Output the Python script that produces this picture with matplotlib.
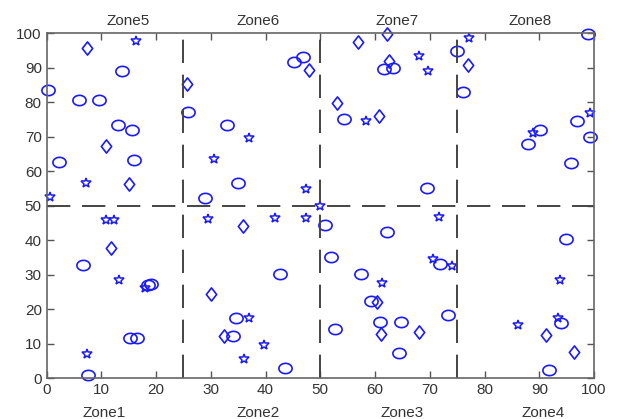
import numpy as np
import matplotlib
matplotlib.use("Agg")
import matplotlib.pyplot as plt
from matplotlib.path import Path

# circles
circ_x = [0.3, 5.9, 9.5, 13.7, 13.0, 15.6, 16.0, 2.3,
          46.8, 45.1, 25.8, 33.0, 34.9, 28.9,
          61.6, 63.2, 54.3, 69.4, 74.9, 76.0,
          98.9, 96.9, 99.3, 90.1, 88.0, 95.8,
          6.7, 18.5, 19.0, 15.2, 16.5, 7.5,
          42.7, 34.6, 34.1, 43.6,
          50.9, 62.2, 52.0, 71.8, 57.4, 59.2, 73.4, 60.9, 64.8, 52.7, 64.3,
          94.9, 94.0, 91.8]
circ_y = [83.4, 80.7, 80.7, 88.9, 73.4, 71.9, 63.3, 62.6,
          93.0, 91.6, 77.1, 73.4, 56.5, 52.3,
          89.6, 89.8, 75.1, 55.2, 94.9, 83.0,
          99.8, 74.5, 70.0, 72.0, 68.0, 62.4,
          32.7, 27.0, 27.2, 11.8, 11.8, 1.1,
          30.3, 17.6, 12.4, 3.0,
          44.4, 42.4, 35.1, 33.0, 30.1, 22.5, 18.3, 16.3, 16.3, 14.3, 7.2,
          40.5, 15.9, 2.3]

# diamonds
diam_x = [7.45, 10.8, 15.1, 47.9, 25.6, 56.8, 62.2, 62.6, 53.1, 60.7, 76.9,
          11.8, 35.8, 30.0, 32.4, 60.3, 61.0, 68.1, 91.2, 96.4]
diam_y = [95.6, 67.4, 56.3, 89.4, 85.2, 97.3, 99.7, 92.0, 79.7, 75.9, 90.8,
          37.9, 44.1, 24.5, 12.4, 22.0, 12.8, 13.4, 12.7, 7.5]

# stars
star_x = [16.4, 7.1, 0.7, 36.9, 30.6, 47.3, 50.0, 68.0, 69.7, 58.4, 77.1, 99.3, 88.8,
          10.9, 12.3, 13.2, 17.9, 7.4,
          29.4, 41.8, 47.4, 37.0, 39.8, 36.1,
          71.7, 70.5, 74.0, 61.3, 93.8, 86.1, 93.5]
star_y = [97.6, 56.6, 52.6, 69.7, 63.5, 54.8, 49.9, 93.5, 88.9, 74.6, 98.6, 77.0, 71.0,
          45.8, 45.8, 28.5, 26.3, 7.0,
          46.1, 46.5, 46.5, 17.4, 9.6, 5.7,
          46.8, 34.5, 32.5, 27.5, 28.4, 15.4, 17.5]

zones_top = ["Zone5", "Zone6", "Zone7", "Zone8"]
zones_top_x = [14.9, 38.6, 64.0, 88.4]
zones_bot = ["Zone1", "Zone2", "Zone3", "Zone4"]
zones_bot_x = [10.5, 38.6, 65.0, 90.7]

plt.rcParams['font.family'] = ['Liberation Sans', 'DejaVu Sans']

# slightly squashed markers like the original (image was stretched)
t = np.linspace(0, 2*np.pi, 41)
ellipse = Path(np.column_stack([np.cos(t), 0.78*np.sin(t)]), closed=True)
diamond = Path([(0, 1), (0.78, 0), (0, -1), (-0.78, 0), (0, 1)], closed=True)

fig = plt.figure(figsize=(6.22, 4.19), dpi=100)
ax = fig.add_axes([0.075, 0.097, 0.880, 0.824])

blue = (0.1, 0.1, 1.0)
ax.plot(circ_x, circ_y, ls='none', marker=ellipse, ms=9.5, mfc='none', mec=blue, mew=1.2, clip_on=False)
ax.plot(diam_x, diam_y, ls='none', marker=diamond, ms=9.5, mfc='none', mec=blue, mew=1.2, clip_on=False)
ax.plot(star_x, star_y, '*', ms=7.5, mfc='none', mec=blue, mew=1.1, clip_on=False)

# dividing lines
for xv in [25, 50, 75]:
    ax.axvline(xv, color='#444444', lw=1.4, dashes=(12, 6))
ax.axhline(50, color='#444444', lw=1.4, dashes=(12, 6))

ax.set_xlim(0, 100)
ax.set_ylim(0, 100)
ax.set_xticks(np.arange(0, 101, 10))
ax.set_yticks(np.arange(0, 101, 10))
ax.tick_params(direction='in', length=5, width=1, top=True, right=True,
               labelsize=11, colors='#555555', labelcolor='#333333')
for s in ax.spines.values():
    s.set_color('#666666')
    s.set_linewidth(1.2)

for lab, xv in zip(zones_top, zones_top_x):
    ax.text(xv, 103.5, lab, ha='center', va='center', fontsize=11, color='#333333')
for lab, xv in zip(zones_bot, zones_bot_x):
    ax.text(xv, -10, lab, ha='center', va='center', fontsize=11, color='#333333')

fig.savefig("out.png", dpi=100)
